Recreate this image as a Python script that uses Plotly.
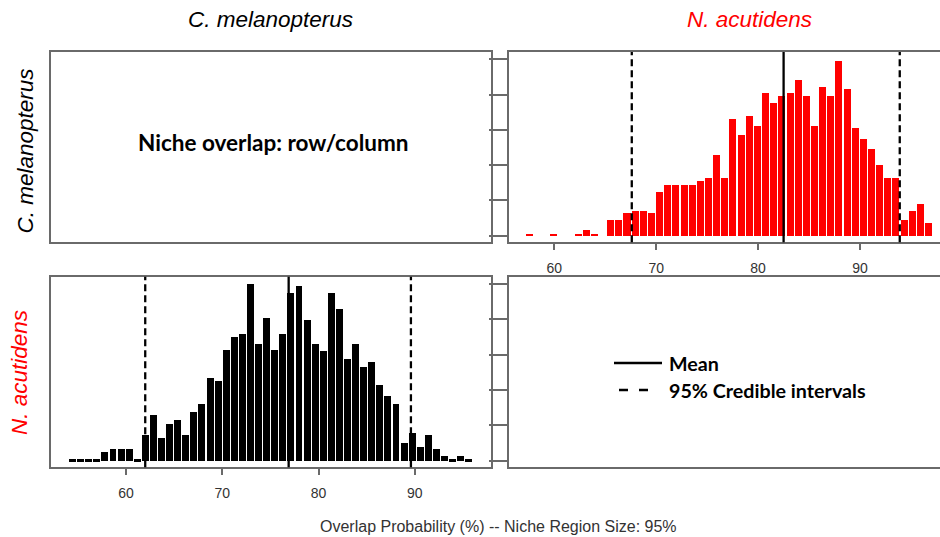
import plotly.graph_objects as go

# ---------------- data ----------------
SPECIES = ["C. melanopterus", "N. acutidens"]

# N. acutidens histogram (overlap of C. melanopterus onto N. acutidens), 50 bins
RED_BIN_START = 57.13
RED_BIN_WIDTH = 0.8
RED_COUNTS = [1, 0, 0, 1, 0, 0, 1, 3, 1, 0,
              9, 9, 13, 14, 14, 13, 25, 29, 29, 29,
              29, 31, 33, 46, 33, 66, 57, 68, 62, 81,
              75, 79, 81, 88, 79, 62, 84, 79, 99, 83,
              61, 55, 49, 40, 33, 33, 9, 14, 18, 7]
RED_MEAN = 82.5
RED_CI = [67.6, 93.9]

# C. melanopterus histogram (overlap of N. acutidens onto C. melanopterus), 50 bins
BLK_BIN_START = 54.0
BLK_BIN_WIDTH = 0.84
BLK_COUNTS = [1, 1, 1, 1, 5, 7, 7, 7, 1, 15,
              26, 13, 21, 23, 15, 28, 32, 47, 45, 63,
              70, 72, 100, 66, 81, 63, 72, 95, 99, 80,
              66, 62, 95, 86, 58, 66, 53, 56, 43, 37,
              32, 10, 16, 8, 15, 7, 3, 1, 3, 1]
BLK_MEAN = 76.9
BLK_CI = [62.0, 89.6]

X_TICKS = [60, 70, 80, 90]
Y_TICKS = [0, 20, 40, 60, 80, 100]

# ---------------- layout helpers ----------------
W, H = 940, 537
def px(x):
    return x / W
def py(y):
    return 1 - y / H

BOX = "#6a6a6a"
FONT = "Liberation Sans, Arial, sans-serif"
BOLD = "Lato, Open Sans, sans-serif"

def centers(start, width, n):
    return [start + width * (i + 0.5) for i in range(n)]

fig = go.Figure()

red_x = centers(RED_BIN_START, RED_BIN_WIDTH, len(RED_COUNTS))
blk_x = centers(BLK_BIN_START, BLK_BIN_WIDTH, len(BLK_COUNTS))

fig.add_trace(go.Bar(x=red_x, y=RED_COUNTS, width=RED_BIN_WIDTH * 0.86,
                     marker=dict(color="#ff0000", line=dict(width=0)),
                     xaxis="x2", yaxis="y2", showlegend=False, hoverinfo="skip"))
fig.add_trace(go.Bar(x=blk_x, y=BLK_COUNTS, width=BLK_BIN_WIDTH * 0.86,
                     marker=dict(color="#000000", line=dict(width=0)),
                     xaxis="x3", yaxis="y3", showlegend=False, hoverinfo="skip"))
# empty panels (anchors only)
fig.add_trace(go.Scatter(x=[None], y=[None], xaxis="x", yaxis="y", showlegend=False))
fig.add_trace(go.Scatter(x=[None], y=[None], xaxis="x4", yaxis="y4", showlegend=False))

left_dom = [px(50.7), px(491.3)]
right_dom = [px(509), 1.0]
top_dom = [py(242.3), py(52.0)]
bot_dom = [py(467.3), py(276.7)]
YR = [-3.7, 104.1]

common_line = dict(showline=True, linecolor=BOX, linewidth=1.5, showgrid=False,
                   zeroline=False)
tickfont = dict(family=FONT, size=14, color="#333333")

fig.update_layout(
    width=W, height=H, margin=dict(l=0, r=0, t=0, b=0),
    paper_bgcolor="white", plot_bgcolor="white", showlegend=False,
    bargap=0,
    # top-left (text panel)
    xaxis=dict(domain=left_dom, anchor="y", range=[0, 1], mirror=True,
               showticklabels=False, ticks="", **common_line),
    yaxis=dict(domain=top_dom, anchor="x", range=[0, 1], mirror=True,
               showticklabels=False, ticks="", **common_line),
    # top-right (red histogram)
    xaxis2=dict(domain=right_dom, anchor="y2", range=[55.55, 97.85], mirror=True,
                tickvals=X_TICKS, ticks="outside", ticklen=6, tickcolor=BOX,
                tickwidth=1.5, tickfont=tickfont, ticklabelstandoff=6,
                **common_line),
    yaxis2=dict(domain=top_dom, anchor="x2", range=YR, mirror=False,
                tickvals=Y_TICKS, ticks="outside", ticklen=18, tickcolor=BOX,
                tickwidth=1.5, showticklabels=False, **common_line),
    # bottom-left (black histogram)
    xaxis3=dict(domain=left_dom, anchor="y3", range=[52.18, 97.95], mirror=True,
                tickvals=X_TICKS, ticks="outside", ticklen=6, tickcolor=BOX,
                tickwidth=1.5, tickfont=tickfont, ticklabelstandoff=6,
                **common_line),
    yaxis3=dict(domain=bot_dom, anchor="x3", range=YR, mirror=True,
                showticklabels=False, ticks="", **common_line),
    # bottom-right (legend panel)
    xaxis4=dict(domain=right_dom, anchor="y4", range=[0, 1], mirror=True,
                showticklabels=False, ticks="", **common_line),
    yaxis4=dict(domain=bot_dom, anchor="x4", range=YR, mirror=False,
                tickvals=Y_TICKS, ticks="outside", ticklen=18, tickcolor=BOX,
                tickwidth=1.5, showticklabels=False, **common_line),
)

# mean / credible interval lines
shapes = []
for xa, mean, ci in (("x2", RED_MEAN, RED_CI), ("x3", BLK_MEAN, BLK_CI)):
    ya = "y2" if xa == "x2" else "y3"
    shapes.append(dict(type="line", xref=xa, yref=ya + " domain", x0=mean, x1=mean,
                       y0=0, y1=1, line=dict(color="black", width=2.3)))
    for c in ci:
        shapes.append(dict(type="line", xref=xa, yref=ya + " domain", x0=c, x1=c,
                           y0=0, y1=1, line=dict(color="black", width=2.3, dash="7px,4px")))

# legend glyphs
shapes.append(dict(type="line", xref="paper", yref="paper", x0=px(614), x1=px(662),
                   y0=py(363), y1=py(363), line=dict(color="black", width=2.5)))
shapes.append(dict(type="line", xref="paper", yref="paper", x0=px(619), x1=px(649),
                   y0=py(390), y1=py(390), line=dict(color="black", width=2.5, dash="9px,11px")))
fig.update_layout(shapes=shapes)

ann = []
# column titles
ann.append(dict(text="<i>" + SPECIES[0] + "</i>", x=px(270), y=py(20), xref="paper", yref="paper",
                showarrow=False, font=dict(family=FONT, size=22.5, color="black"),
                xanchor="center", yanchor="middle"))
ann.append(dict(text="<i>" + SPECIES[1] + "</i>", x=px(749), y=py(20), xref="paper", yref="paper",
                showarrow=False, font=dict(family=FONT, size=22.5, color="#ff0000"),
                xanchor="center", yanchor="middle"))
# row titles
ann.append(dict(text="<i>" + SPECIES[0] + "</i>", x=px(24.5), y=py(151), xref="paper", yref="paper",
                showarrow=False, textangle=-90, font=dict(family=FONT, size=22.5, color="black"),
                xanchor="center", yanchor="middle"))
ann.append(dict(text="<i>" + SPECIES[1] + "</i>", x=px(19), y=py(373), xref="paper", yref="paper",
                showarrow=False, textangle=-90, font=dict(family=FONT, size=22.5, color="#ff0000"),
                xanchor="center", yanchor="middle"))
# panel text
ann.append(dict(text="<b>Niche overlap: row/column</b>", x=px(273), y=py(142), xref="paper",
                yref="paper", showarrow=False, font=dict(family=BOLD, size=22.5, color="black"),
                xanchor="center", yanchor="middle"))
# legend text
ann.append(dict(text="<b>Mean</b>", x=px(667), y=py(363), xref="paper", yref="paper",
                showarrow=False, font=dict(family=BOLD, size=19.7, color="black"),
                xanchor="left", yanchor="middle"))
ann.append(dict(text="<b>95% Credible intervals</b>", x=px(667), y=py(390), xref="paper",
                yref="paper", showarrow=False, font=dict(family=BOLD, size=19.7, color="black"),
                xanchor="left", yanchor="middle"))
# x label
ann.append(dict(text="Overlap Probability (%) -- Niche Region Size: 95%", x=px(498), y=py(526),
                xref="paper", yref="paper", showarrow=False,
                font=dict(family=FONT, size=16, color="#333333"),
                xanchor="center", yanchor="middle"))
fig.update_layout(annotations=ann)

fig.write_html("out.html", post_script="document.body.style.margin='0';",
               config={"displayModeBar": False})
